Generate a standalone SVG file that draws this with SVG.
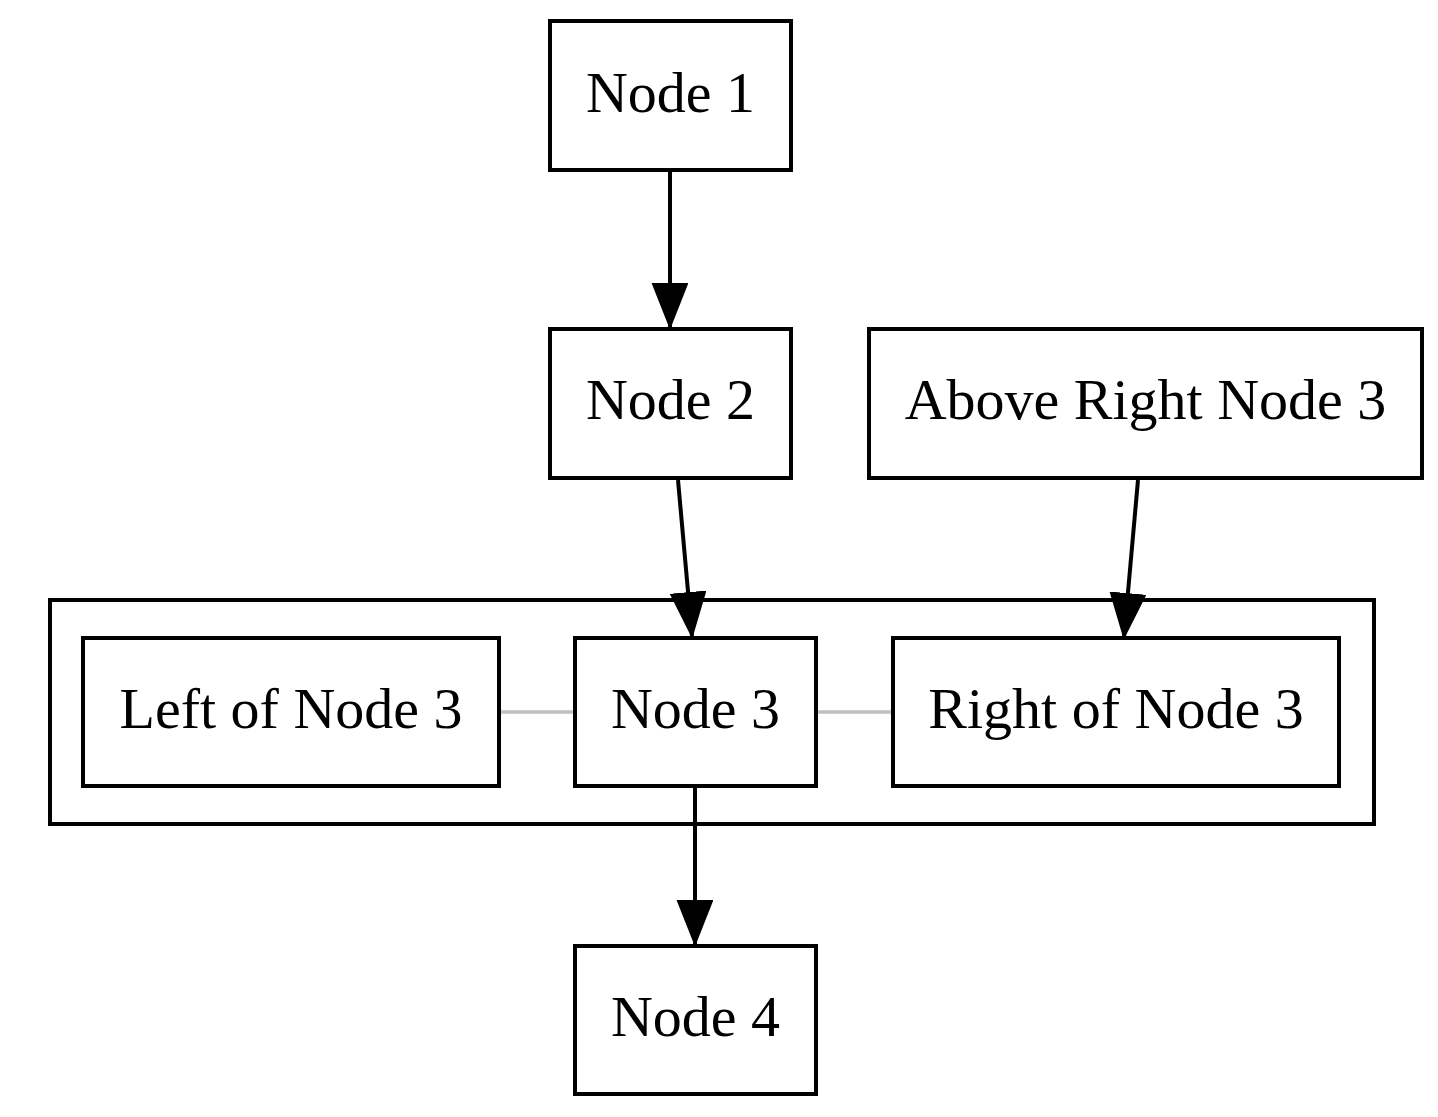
<svg xmlns="http://www.w3.org/2000/svg" width="1438" height="1117" viewBox="0 0 1438 1117">
<style>
.box{fill:#fff;stroke:#000;stroke-width:4}
.lbl{font-family:"Liberation Serif","Times New Roman",serif;font-size:58px;fill:#000;text-anchor:middle}
.edge{stroke:#000;stroke-width:4;fill:none}
.link{stroke:#c0c0c0;stroke-width:3.5;fill:none}
</style>
<defs>
<marker id="ah" markerUnits="userSpaceOnUse" markerWidth="46" markerHeight="38" refX="44" refY="18" orient="auto" viewBox="0 0 46 38">
<path d="M1,1 L44,18 L1,35 Z" fill="#000" stroke="#000" stroke-width="2"/>
</marker>
</defs>
<rect width="1438" height="1117" fill="#fff"/>
<g id="cluster">
<rect x="50" y="600" width="1324" height="224" fill="none" stroke="#000" stroke-width="4"/>
</g>
<g id="connectors">
<line class="edge" x1="670" y1="171" x2="670" y2="327" marker-end="url(#ah)"/>
<line class="edge" x1="678" y1="480" x2="692" y2="636" marker-end="url(#ah)"/>
<line class="edge" x1="1138" y1="480" x2="1124" y2="637" marker-end="url(#ah)"/>
<line class="edge" x1="695" y1="788" x2="695" y2="944" marker-end="url(#ah)"/>
<line class="link" x1="500" y1="712" x2="575" y2="712"/>
<line class="link" x1="816" y1="712" x2="893" y2="712"/>
</g>
<g id="node1"><rect class="box" x="550" y="21" width="241" height="149"/><text class="lbl" x="670.5" y="111.5">Node 1</text></g>
<g id="node2"><rect class="box" x="550" y="329" width="241" height="149"/><text class="lbl" x="670.5" y="419">Node 2</text></g>
<g id="aboveRight"><rect class="box" x="869" y="329" width="553" height="149"/><text class="lbl" x="1145.5" y="419">Above Right Node 3</text></g>
<g id="left3"><rect class="box" x="83" y="638" width="416" height="148"/><text class="lbl" x="291" y="728">Left of Node 3</text></g>
<g id="node3"><rect class="box" x="575" y="638" width="241" height="148"/><text class="lbl" x="695.5" y="728">Node 3</text></g>
<g id="right3"><rect class="box" x="893" y="638" width="446" height="148"/><text class="lbl" x="1116" y="728">Right of Node 3</text></g>
<g id="node4"><rect class="box" x="575" y="946" width="241" height="148"/><text class="lbl" x="695.5" y="1036">Node 4</text></g>
</svg>
